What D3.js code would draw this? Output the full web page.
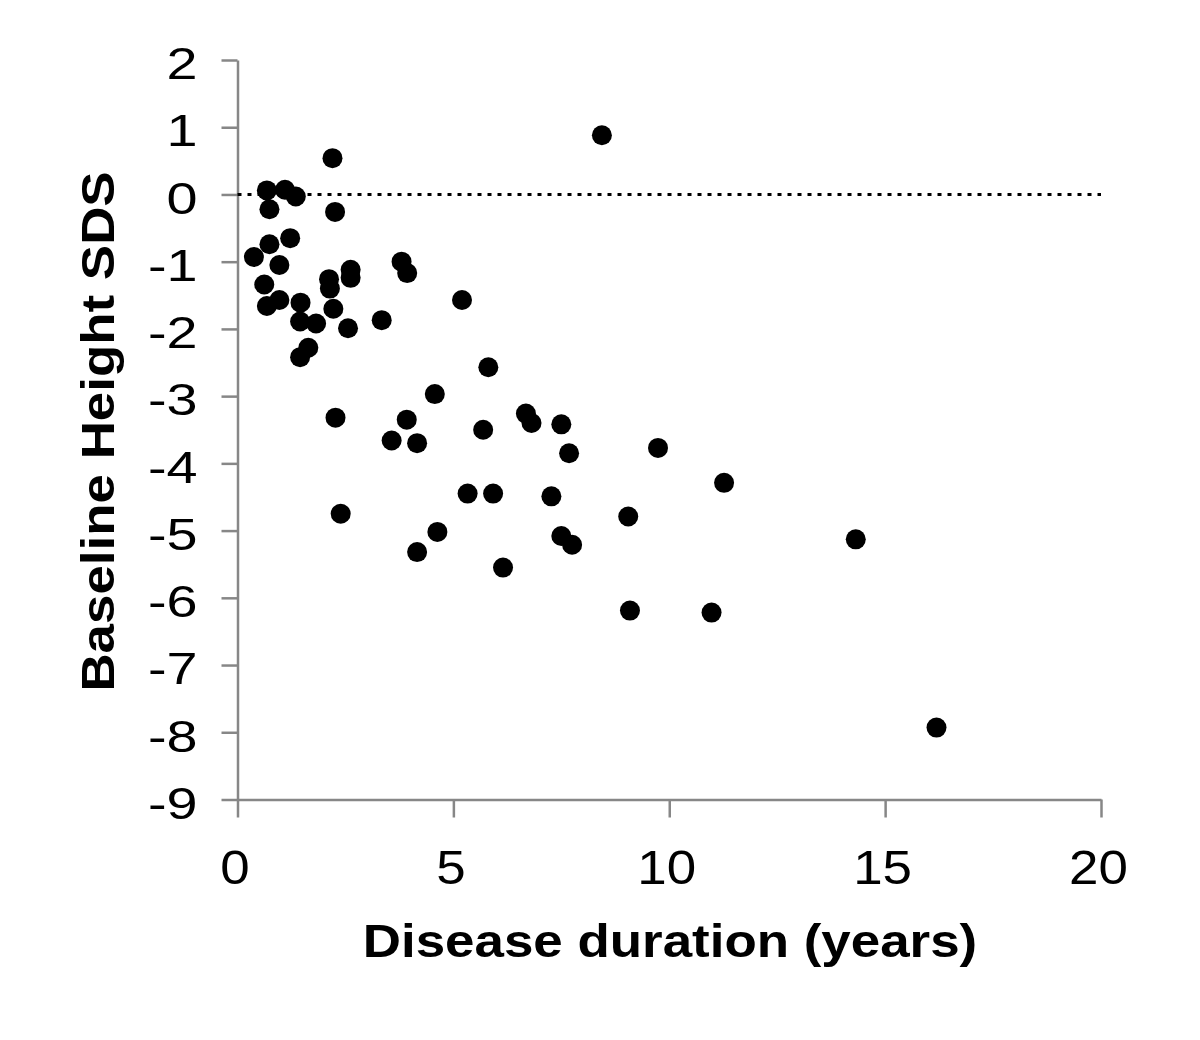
<!DOCTYPE html>
<html><head><meta charset="utf-8">
<script src="https://cdn.jsdelivr.net/npm/d3@7"></script>
<style>body{margin:0;background:#fff}</style>
</head><body>
<svg id="c" width="1200" height="1040"></svg>
<script>
const duration = [2.20,0.68,1.10,1.35,0.74,2.26,1.22,0.74,0.38,0.97,0.62,0.68,0.97,1.46,2.12,2.14,2.22,2.62,2.62,3.80,3.93,1.45,1.82,2.56,3.34,1.64,1.45,
  5.81,4.57,2.27,3.92,3.57,4.16,5.69,6.68,6.81,7.50,7.68,5.33,5.92,7.27,9.05,2.39,4.63,4.16,7.50,7.75,6.15,
  9.74,11.27,9.09,10.98,8.44,5.20,14.32,16.19];
const heightSDS = [0.54,0.06,0.07,-0.03,-0.22,-0.26,-0.65,-0.74,-0.93,-1.05,-1.34,-1.66,-1.57,-1.61,-1.26,-1.40,-1.70,-1.12,-1.24,-1.00,-1.17,-1.89,-1.92,-1.99,-1.87,-2.28,-2.42,
  -2.57,-2.97,-3.32,-3.35,-3.66,-3.70,-3.50,-3.26,-3.40,-3.42,-3.85,-4.45,-4.45,-4.49,-4.79,-4.75,-5.02,-5.32,-5.08,-5.21,-5.55,
  -3.77,-4.29,-6.19,-6.22,0.88,-1.57,-5.13,-7.93];
const xTicks = [0,5,10,15,20];
const yTicks = [2,1,0,-1,-2,-3,-4,-5,-6,-7,-8,-9];
const xTitle = "Disease duration (years)";
const yTitle = "Baseline Height SDS";

const svg = d3.select("#c");
const x = d3.scaleLinear().domain([0,20]).range([237.5,1101]);
const y = d3.scaleLinear().domain([-9,2]).range([799.5,60]);
const axisColor = "#878787";
const font = "'Liberation Sans', Arial, sans-serif";

const xAxis = svg.append("g").attr("transform",`translate(0,${y(-9)})`)
  .call(d3.axisBottom(x).tickValues(xTicks).tickSize(18).tickSizeOuter(0));
const yAxis = svg.append("g").attr("transform",`translate(${x(0)},0)`)
  .call(d3.axisLeft(y).tickValues(yTicks).tickSize(16).tickSizeOuter(0)
    .tickFormat(d => d < 0 ? "-" + Math.abs(d) : d));
[xAxis,yAxis].forEach(a => {
  a.selectAll("path,line").attr("stroke",axisColor).attr("stroke-width",2.5);
  a.selectAll("text").attr("fill","#000").style("font-family",font);
});
xAxis.selectAll("text").attr("x",0).attr("y",0).attr("dy",0).attr("text-anchor","middle")
  .style("font-size","49px").attr("transform","translate(-3,84) scale(1.08,1)");
yAxis.selectAll("text").attr("x",0).attr("y",0).attr("dy","0.35em").attr("text-anchor","end")
  .style("font-size","45px").attr("transform","translate(-40,3) scale(1.24,1)");

svg.append("line").attr("x1",x(0)).attr("x2",x(20)).attr("y1",y(0)).attr("y2",y(0))
  .attr("stroke","#000").attr("stroke-width",3).attr("stroke-dasharray","4,6");

svg.append("g").selectAll("circle").data(duration.map((d,i)=>[d,heightSDS[i]])).join("circle")
  .attr("cx",d=>x(d[0])).attr("cy",d=>y(d[1])).attr("r",10).attr("fill","#000");

svg.append("text").attr("transform",`translate(670,957) scale(1.15,1)`).attr("text-anchor","middle")
  .style("font-family",font).style("font-size","46px").style("font-weight","bold").text(xTitle);
svg.append("text").attr("transform",`translate(114,431.5) rotate(-90) scale(1.15,1)`).attr("text-anchor","middle")
  .style("font-family",font).style("font-size","46px").style("font-weight","bold").text(yTitle);
</script>
</body></html>
